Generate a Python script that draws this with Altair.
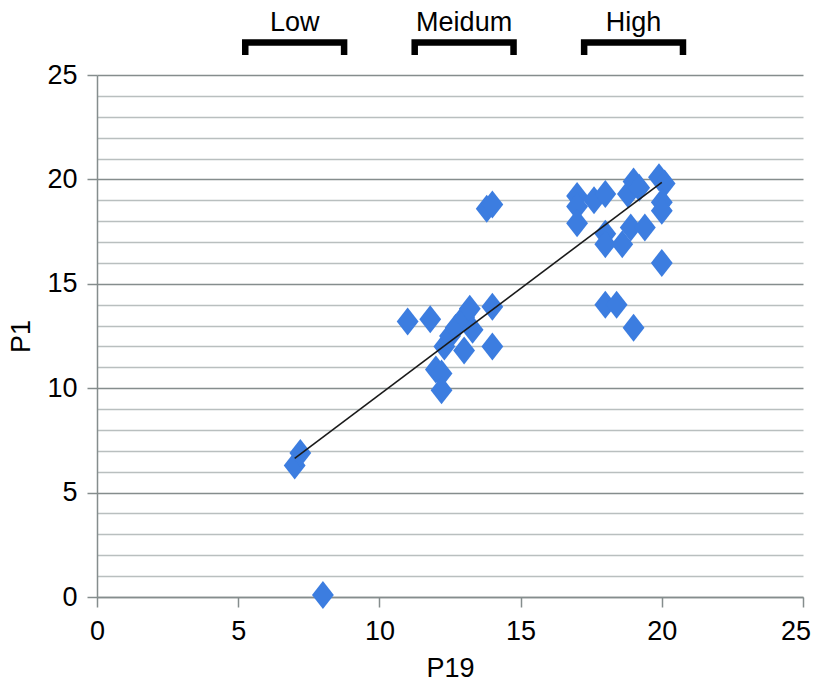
import altair as alt
import pandas as pd

# ---- data ----
p19 = [7.0, 7.2, 8.0,
       11.0, 11.8, 12.0, 12.2, 12.2, 12.3, 12.5, 12.7, 13.0, 13.0, 13.2, 13.3, 14.0, 14.0, 13.8, 14.0,
       17.0, 17.0, 17.0, 17.6, 18.0, 18.8, 19.0, 19.2, 19.9, 20.1, 20.0, 20.0, 18.0, 18.0, 18.6, 18.9,
       19.4, 20.0, 18.0, 18.4, 19.0]
p1 = [6.3, 6.9, 0.1,
      13.2, 13.3, 10.9, 10.7, 9.9, 12.0, 12.5, 12.9, 13.4, 11.8, 13.8, 12.8, 13.9, 12.0, 18.6, 18.8,
      19.2, 18.7, 17.9, 19.0, 19.3, 19.3, 19.9, 19.6, 20.1, 19.8, 18.9, 18.5, 17.4, 16.9, 16.9, 17.7,
      17.7, 16.0, 14.0, 14.0, 12.9]

trend_x = [7.0, 20.0]
trend_y = [6.64, 19.86]

group_labels = ["Low", "Meidum", "High"]
group_centers = [7.0, 13.0, 19.0]
group_half_width = 1.75
bracket_top = 26.56
bracket_bottom = 25.96
label_y = 27.12

x_ticks = [0, 5, 10, 15, 20, 25]
y_ticks = list(range(0, 26))

MAJOR = "#858d8d"
MINOR = "#b9bfbf"
BLUE = "#3c7de0"
FONT = "Liberation Sans"

points = pd.DataFrame({"P19": p19, "P1": p1})
trend = pd.DataFrame({"P19": trend_x, "P1": trend_y})

rows = []
for lab, c in zip(group_labels, group_centers):
    pts = [(c - group_half_width, bracket_bottom), (c - group_half_width, bracket_top),
           (c + group_half_width, bracket_top), (c + group_half_width, bracket_bottom)]
    for i, (bx, by) in enumerate(pts):
        rows.append({"grp": lab, "idx": i, "P19": bx, "P1": by})
brackets = pd.DataFrame(rows)
labels = pd.DataFrame({"P19": group_centers, "P1": [label_y] * 3, "lab": group_labels})

X = alt.X("P19:Q",
          scale=alt.Scale(domain=[0, 25], nice=False, zero=False),
          axis=alt.Axis(values=x_ticks, grid=False, title="P19",
                        domainColor=MAJOR, domainWidth=1.5,
                        tickColor=MAJOR, tickWidth=1.5, tickSize=10,
                        labelFontSize=27, labelFont=FONT, labelColor="black", labelPadding=11,
                        labelFlush=True, labelFlushOffset=7.5,
                        titleFontSize=27, titleFont=FONT, titleFontWeight="normal",
                        titleColor="black", titlePadding=11))
Y = alt.Y("P1:Q",
          scale=alt.Scale(domain=[0, 25], nice=False, zero=False),
          axis=alt.Axis(values=y_ticks, grid=True, title="P1",
                        gridColor={"condition": {"test": "datum.value % 5 === 0", "value": MAJOR},
                                   "value": MINOR},
                        gridWidth=1.5,
                        domainColor=MAJOR, domainWidth=1.5,
                        tickColor={"condition": {"test": "datum.value % 5 === 0", "value": MAJOR},
                                   "value": "transparent"},
                        tickWidth=1.5, tickSize=10,
                        labelExpr="datum.value % 5 === 0 ? datum.label : ''",
                        labelFontSize=27, labelFont=FONT, labelColor="black", labelPadding=10,
                        titleFontSize=27, titleFont=FONT, titleFontWeight="normal",
                        titleColor="black", titlePadding=11))

pts_layer = alt.Chart(points).mark_point(
    shape="M0,-1L0.78,0L0,1L-0.78,0Z", size=784, filled=True, color=BLUE, opacity=1
).encode(x=X, y=Y)

trend_layer = alt.Chart(trend).mark_line(color="#1a1a1a", strokeWidth=1.6).encode(x=X, y=Y)

bracket_layer = alt.Chart(brackets).mark_line(
    color="black", strokeWidth=6.5, strokeJoin="miter", strokeCap="butt"
).encode(x=X, y=Y, detail="grp:N", order="idx:Q")

text_layer = alt.Chart(labels).mark_text(
    fontSize=27, font=FONT, color="black", baseline="alphabetic", align="center"
).encode(x=X, y=Y, text="lab:N")

chart = alt.layer(pts_layer, trend_layer, bracket_layer, text_layer).properties(
    width=706, height=522,
    autosize=alt.AutoSizeParams(type="none"),
    padding={"left": 89, "top": 67, "right": 9, "bottom": 86},
    background="white",
).configure_view(stroke=None)

chart.save("out.html", embed_options={"renderer": "svg", "actions": False})
